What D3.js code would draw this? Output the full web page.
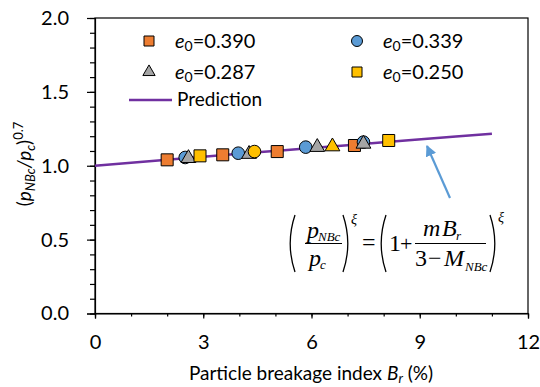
<!DOCTYPE html>
<html><head><meta charset="utf-8">
<script src="https://cdn.jsdelivr.net/npm/d3@7"></script>
<style>html,body{margin:0;padding:0;background:#fff;}svg{display:block;}</style>
</head><body>
<script>
// ---- data ----
const xTicks = [0, 3, 6, 9, 12];
const yTicks = [0.0, 0.5, 1.0, 1.5, 2.0];
const e390x = [2.00, 3.54, 5.05, 7.19];
const e390y = [1.040, 1.074, 1.096, 1.137];
const e339x = [2.50, 3.97, 5.84, 7.44];
const e339y = [1.056, 1.085, 1.126, 1.160];
const e287x = [2.59, 4.27, 6.16, 7.44];
const e287y = [1.051, 1.079, 1.126, 1.148];
const e250x = [2.91, 4.42, 6.58, 8.14];
const e250y = [1.067, 1.096, 1.130, 1.171];
const e250shape = ["square", "circle", "triangle", "square"];
const predX = [0, 2, 4, 6, 8, 10, 11];
const predY = [1.000, 1.041, 1.081, 1.120, 1.159, 1.198, 1.216];

const W = 540, H = 387;
const font = "Lato, 'Open Sans', sans-serif";
const svg = d3.select("body").append("svg").attr("width", W).attr("height", H);
const x = d3.scaleLinear().domain([0, 12]).range([95, 528]);
const y = d3.scaleLinear().domain([0, 2]).range([313.5, 18]);

// frame
svg.append("rect").attr("x", x(0)).attr("y", y(2)).attr("width", x(12) - x(0)).attr("height", y(0) - y(2))
  .attr("fill", "none").attr("stroke", "#000").attr("stroke-width", 1.2);

// axes
const xMinor = d3.range(0, 12.01, 1);
svg.append("g").attr("transform", `translate(0,${y(0)})`)
  .call(d3.axisBottom(x).tickValues(xMinor).tickSize(3).tickFormat(""))
  .call(g => g.select(".domain").remove());
const gx = svg.append("g").attr("transform", `translate(0,${y(0)})`)
  .call(d3.axisBottom(x).tickValues(xTicks).tickSize(5).tickPadding(16).tickFormat(d3.format("d")));
gx.select(".domain").attr("stroke-width", 1.2);
gx.selectAll("text").attr("font-family", font).attr("font-size", 20).attr("fill", "#000");

const yMinor = d3.range(0, 2.001, 0.1);
svg.append("g").attr("transform", `translate(${x(0)},0)`)
  .call(d3.axisLeft(y).tickValues(yMinor).tickSize(5).tickFormat(""))
  .call(g => g.select(".domain").remove());
const gy = svg.append("g").attr("transform", `translate(${x(0)},0)`)
  .call(d3.axisLeft(y).tickValues(yTicks).tickSize(8).tickPadding(18).tickFormat(d3.format(".1f")));
gy.select(".domain").attr("stroke-width", 1.2);
gy.selectAll("text").attr("font-family", font).attr("font-size", 20).attr("fill", "#000");
svg.selectAll(".tick line").attr("stroke", "#000").attr("stroke-width", 1.2);

// axis titles
const xt = svg.append("text").attr("x", 311).attr("y", 380).attr("text-anchor", "middle")
  .attr("font-family", font).attr("font-size", 19).attr("fill", "#000");
xt.append("tspan").text("Particle breakage index ");
xt.append("tspan").attr("font-style", "italic").text("B");
xt.append("tspan").attr("font-style", "italic").attr("font-size", 13).attr("dy", 3).text("r");
xt.append("tspan").attr("dy", -3).text(" (%)");

const yt = svg.append("text").attr("transform", "translate(31,164) rotate(-90)").attr("text-anchor", "middle")
  .attr("font-family", font).attr("font-size", 19).attr("fill", "#000");
yt.append("tspan").text("(");
yt.append("tspan").attr("font-style", "italic").text("p");
yt.append("tspan").attr("font-style", "italic").attr("font-size", 13).attr("dy", 4).text("NBc");
yt.append("tspan").attr("font-style", "italic").attr("dy", -4).text("/p");
yt.append("tspan").attr("font-style", "italic").attr("font-size", 13).attr("dy", 4).text("c");
yt.append("tspan").attr("dy", -4).text(")");
yt.append("tspan").attr("font-size", 13).attr("dy", -8).text("0.7");

// prediction line
const line = d3.line().x(d => x(d[0])).y(d => y(d[1])).curve(d3.curveMonotoneX);
svg.append("path").datum(predX.map((v, i) => [v, predY[i]])).attr("d", line)
  .attr("fill", "none").attr("stroke", "#7030A0").attr("stroke-width", 2.5);

// markers
const sizes = { square: 144, circle: 125, triangle: 95 };
const types = { square: d3.symbolSquare, circle: d3.symbolCircle, triangle: d3.symbolTriangle };
function drawSeries(xs, ys, shapes, color) {
  svg.append("g").selectAll("path").data(xs.map((v, i) => ({ x: v, y: ys[i], s: shapes[i] })))
    .join("path")
    .attr("transform", d => `translate(${x(d.x)},${y(d.y)})`)
    .attr("d", d => d3.symbol().type(types[d.s]).size(sizes[d.s])())
    .attr("fill", color).attr("stroke", "#000").attr("stroke-width", 1);
}
drawSeries(e390x, e390y, e390x.map(() => "square"), "#ED7D31");
drawSeries(e339x, e339y, e339x.map(() => "circle"), "#5B9BD5");
drawSeries(e287x, e287y, e287x.map(() => "triangle"), "#A5A5A5");
drawSeries(e250x, e250y, e250shape, "#FFC000");

// legend
const legend = [
  { label: "0.390", shape: "square", color: "#ED7D31", lx: 149, ly: 41 },
  { label: "0.339", shape: "circle", color: "#5B9BD5", lx: 357, ly: 41 },
  { label: "0.287", shape: "triangle", color: "#A5A5A5", lx: 149, ly: 72 },
  { label: "0.250", shape: "square", color: "#FFC000", lx: 357, ly: 72 }
];
const lsz = { square: 100, circle: 95, triangle: 65 };
legend.forEach(d => {
  svg.append("path").attr("transform", `translate(${d.lx},${d.ly})`)
    .attr("d", d3.symbol().type(types[d.shape]).size(lsz[d.shape])())
    .attr("fill", d.color).attr("stroke", "#000").attr("stroke-width", 1);
  const t = svg.append("text").attr("x", d.lx + 26).attr("y", d.ly + 7)
    .attr("font-family", font).attr("font-size", 20).attr("fill", "#000");
  t.append("tspan").attr("font-style", "italic").text("e");
  t.append("tspan").attr("font-size", 14).attr("dy", 3).text("0");
  t.append("tspan").attr("dy", -3).text("=" + d.label);
});
svg.append("line").attr("x1", 129).attr("x2", 172).attr("y1", 100).attr("y2", 100)
  .attr("stroke", "#7030A0").attr("stroke-width", 2.5);
svg.append("text").attr("x", 177).attr("y", 106).attr("font-family", font).attr("font-size", 19)
  .attr("fill", "#000").text("Prediction");

// arrow
svg.append("defs").append("marker").attr("id", "ah").attr("viewBox", "0 0 10 10")
  .attr("refX", 9).attr("refY", 5).attr("markerWidth", 5).attr("markerHeight", 5)
  .attr("orient", "auto").append("path").attr("d", "M0,0L10,5L0,10z").attr("fill", "#5B9BD5");
svg.append("line").attr("x1", 450).attr("y1", 198).attr("x2", 427).attr("y2", 146)
  .attr("stroke", "#5B9BD5").attr("stroke-width", 2.2).attr("marker-end", "url(#ah)");

// formula
const ff = "'Liberation Serif', 'Times New Roman', serif";
const fg = svg.append("g").attr("font-family", ff).attr("fill", "#000");
function paren(x0, left) {
  const top = 215, bot = 272, bulge = left ? -6 : 6;
  fg.append("path").attr("d", `M${x0},${top} Q${x0 + bulge * 1.6},${(top + bot) / 2} ${x0},${bot}`)
    .attr("fill", "none").attr("stroke", "#000").attr("stroke-width", 1.3);
}
function txt(xp, yp, s, size, italic) {
  return fg.append("text").attr("x", xp).attr("y", yp).attr("font-size", size)
    .attr("font-style", italic ? "italic" : "normal").text(s);
}
paren(295, true);
txt(307, 238, "p", 24, true);
txt(318, 241, "NBc", 13, true);
fg.append("line").attr("x1", 305).attr("x2", 342).attr("y1", 243.5).attr("y2", 243.5).attr("stroke", "#000").attr("stroke-width", 1);
txt(309, 266, "p", 24, true);
txt(320, 269, "c", 13, true);
paren(343, false);
txt(351, 224, "ξ", 14, true);
txt(362, 250, "=", 24, false);
paren(386, true);
txt(389, 251, "1", 24, false);
txt(400, 251, "+", 22, false);
txt(423, 236, "m", 24, true);
txt(442, 236, "B", 24, true);
txt(456, 240, "r", 13, true);
fg.append("line").attr("x1", 415).attr("x2", 486).attr("y1", 243.5).attr("y2", 243.5).attr("stroke", "#000").attr("stroke-width", 1);
txt(415, 266, "3", 24, false);
txt(428, 266, "−", 24, false);
txt(444, 266, "M", 24, true);
txt(465, 271, "NBc", 13, true);
paren(490, false);
txt(498, 222, "ξ", 14, true);
</script>
</body></html>
